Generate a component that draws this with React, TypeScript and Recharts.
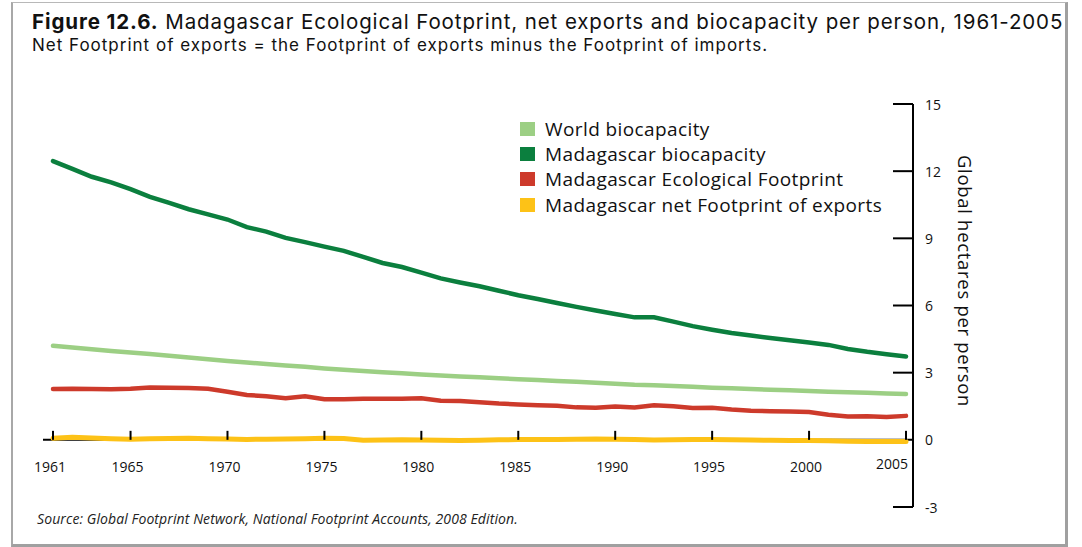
import React from 'react';
import { LineChart, Line, XAxis, YAxis, ReferenceLine, Legend } from 'recharts';

// years 1961..2005
const years = [
  1961, 1962, 1963, 1964, 1965, 1966, 1967, 1968, 1969, 1970,
  1971, 1972, 1973, 1974, 1975, 1976, 1977, 1978, 1979, 1980,
  1981, 1982, 1983, 1984, 1985, 1986, 1987, 1988, 1989, 1990,
  1991, 1992, 1993, 1994, 1995, 1996, 1997, 1998, 1999, 2000,
  2001, 2002, 2003, 2004, 2005,
];

const worldBiocapacity = [
  4.2, 4.12, 4.05, 3.97, 3.9, 3.83, 3.76, 3.68, 3.6, 3.52,
  3.45, 3.39, 3.32, 3.26, 3.19, 3.13, 3.07, 3.02, 2.97, 2.92,
  2.87, 2.83, 2.79, 2.75, 2.71, 2.67, 2.63, 2.59, 2.55, 2.5,
  2.46, 2.44, 2.4, 2.37, 2.33, 2.3, 2.27, 2.24, 2.21, 2.18,
  2.15, 2.12, 2.1, 2.07, 2.05,
];

const madagascarBiocapacity = [
  12.45, 12.1, 11.75, 11.5, 11.2, 10.85, 10.58, 10.3, 10.07, 9.84,
  9.5, 9.3, 9.02, 8.83, 8.63, 8.44, 8.17, 7.9, 7.72, 7.47,
  7.21, 7.03, 6.86, 6.66, 6.46, 6.29, 6.11, 5.94, 5.78, 5.62,
  5.47, 5.47, 5.28, 5.08, 4.92, 4.77, 4.66, 4.55, 4.45, 4.35,
  4.24, 4.06, 3.93, 3.82, 3.72,
];

const madagascarFootprint = [
  2.27, 2.28, 2.27, 2.26, 2.28, 2.34, 2.33, 2.31, 2.28, 2.15,
  2.0, 1.95, 1.86, 1.95, 1.81, 1.81, 1.83, 1.84, 1.83, 1.86,
  1.75, 1.73, 1.68, 1.62, 1.58, 1.55, 1.52, 1.45, 1.43, 1.49,
  1.44, 1.54, 1.5, 1.42, 1.43, 1.35, 1.3, 1.28, 1.26, 1.24,
  1.12, 1.04, 1.05, 1.02, 1.07,
];

const netExports = [
  0.07, 0.12, 0.08, 0.05, 0.03, 0.05, 0.06, 0.07, 0.05, 0.04,
  0.02, 0.03, 0.04, 0.05, 0.07, 0.06, -0.02, -0.01, 0.0, -0.01,
  -0.02, -0.03, -0.02, 0.0, 0.01, 0.02, 0.02, 0.03, 0.04, 0.03,
  0.01, -0.01, 0.0, 0.01, 0.02, 0.0, -0.01, -0.02, -0.03, -0.03,
  -0.04, -0.06, -0.07, -0.08, -0.08,
];

const xTicks = [1961, 1965, 1970, 1975, 1980, 1985, 1990, 1995, 2000, 2005];
const yTicks = [-3, 0, 3, 6, 9, 12, 15];

const legendOrder = [
  'World biocapacity',
  'Madagascar biocapacity',
  'Madagascar Ecological Footprint',
  'Madagascar net Footprint of exports',
];

const chartData = years.map((year, i) => ({
  year,
  world: worldBiocapacity[i],
  bio: madagascarBiocapacity[i],
  footprint: madagascarFootprint[i],
  exports: netExports[i],
}));

const FONT = '"Open Sans", sans-serif';
const HEAD_FONT = 'Inter, "Open Sans", sans-serif';
const W = 1082;
const H = 547;
const PLOT_TOP = 104;
const PLOT_BOTTOM = 507;
// distance from plot bottom (-3) up to the zero line
const ZERO_UP = ((PLOT_BOTTOM - PLOT_TOP) * 3) / 18;

const XTick = (props: any) => {
  const { x, y, payload } = props;
  const y0 = y - ZERO_UP;
  const last = payload.value === 2005;
  return (
    <g>
      <line x1={x} x2={x} y1={y0 - 9} y2={y0} stroke="#000" strokeWidth={2} />
      <text
        x={last ? x + 2 : x - 3}
        y={y0 + (last ? 24 : 27)}
        textAnchor={last ? 'end' : 'middle'}
        dominantBaseline="central"
        fontFamily={FONT}
        fontSize={14}
        fill="#111"
      >
        {payload.value}
      </text>
    </g>
  );
};

const YTick = (props: any) => {
  const { x, y, payload } = props;
  return (
    <g>
      {payload.value !== 0 && (
        <line x1={x - 20} x2={x} y1={y} y2={y} stroke="#000" strokeWidth={2} />
      )}
      <text
        x={x + 12}
        y={y}
        dominantBaseline="central"
        fontFamily={FONT}
        fontSize={14}
        fill="#111"
      >
        {payload.value}
      </text>
    </g>
  );
};

const LegendBox = ({ payload }: any) => {
  const items = [...(payload || [])].sort(
    (a: any, b: any) => legendOrder.indexOf(a.value) - legendOrder.indexOf(b.value)
  );
  return (
    <div style={{ fontFamily: FONT, fontSize: 19, letterSpacing: 0.4, color: '#111' }}>
      {items.map((p: any) => (
        <div key={p.value} style={{ display: 'flex', alignItems: 'center', height: 25.3, whiteSpace: 'nowrap' }}>
          <span
            style={{ width: 15, height: 14, background: p.color, marginRight: 10, display: 'inline-block' }}
          />
          <span>{p.value}</span>
        </div>
      ))}
    </div>
  );
};

export default function App() {
  return (
    <div style={{ position: 'absolute', left: 0, top: 0, width: W, height: H, background: '#fff' }}>
      {/* frame */}
      <div
        style={{
          position: 'absolute',
          left: 11,
          top: 2,
          width: 1052,
          height: 541,
          borderLeft: '2px solid #a8a8a8',
          borderTop: '1px solid #b8b8b8',
          borderRight: '3px solid #a0a0a0',
          borderBottom: '3px solid #a0a0a0',
        }}
      />
      <div
        style={{
          position: 'absolute',
          left: 32,
          top: 12,
          whiteSpace: 'nowrap',
          fontFamily: HEAD_FONT,
          fontSize: 20.5,
          letterSpacing: 0.9,
          lineHeight: '20.5px',
          color: '#111',
        }}
      >
        <b>Figure 12.6.</b> Madagascar Ecological Footprint, net exports and biocapacity per person, 1961-2005
      </div>
      <div
        style={{
          position: 'absolute',
          left: 32,
          top: 37.2,
          whiteSpace: 'nowrap',
          fontFamily: HEAD_FONT,
          fontSize: 17,
          letterSpacing: 1.0,
          lineHeight: '17px',
          color: '#111',
        }}
      >
        Net Footprint of exports = the Footprint of exports minus the Footprint of imports.
      </div>
      <div
        style={{
          position: 'absolute',
          left: 37,
          top: 511.5,
          whiteSpace: 'nowrap',
          fontFamily: FONT,
          fontStyle: 'italic',
          fontSize: 14,
          letterSpacing: 0.1,
          lineHeight: '14px',
          color: '#222',
        }}
      >
        Source: Global Footprint Network, National Footprint Accounts, 2008 Edition.
      </div>
      <div
        style={{
          position: 'absolute',
          left: 965,
          top: 281,
          transform: 'translate(-50%, -50%) rotate(90deg)',
          whiteSpace: 'nowrap',
          fontFamily: FONT,
          fontSize: 18.5,
          letterSpacing: 0.7,
          lineHeight: '18px',
          color: '#111',
        }}
      >
        Global hectares per person
      </div>
      <div style={{ position: 'absolute', left: 0, top: 0 }}>
        <LineChart
          width={W}
          height={H}
          data={chartData}
          margin={{ top: PLOT_TOP, right: 109, bottom: 10, left: 43 }}
        >
          <XAxis
            dataKey="year"
            type="number"
            domain={[1960.484, 2005.361]}
            ticks={xTicks}
            interval={0}
            axisLine={false}
            tickLine={false}
            tickSize={0}
            tickMargin={0}
            height={30}
            tick={<XTick />}
          />
          <YAxis
            orientation="right"
            type="number"
            domain={[-3, 15]}
            ticks={yTicks}
            interval={0}
            width={60}
            axisLine={{ stroke: '#000', strokeWidth: 2 }}
            tickLine={false}
            tickSize={0}
            tickMargin={0}
            tick={<YTick />}
          />
          <ReferenceLine y={0} stroke="#000" strokeWidth={2} />
          <Legend
            layout="vertical"
            verticalAlign="middle"
            align="center"
            wrapperStyle={{ left: 520, top: 116, width: 380 }}
            content={<LegendBox />}
          />
          <Line
            dataKey="world"
            name="World biocapacity"
            stroke="#9ccf84"
            strokeWidth={4.5}
            dot={false}
            strokeLinecap="round"
            isAnimationActive={false}
          />
          <Line
            dataKey="bio"
            name="Madagascar biocapacity"
            stroke="#0b7f3e"
            strokeWidth={4.5}
            dot={false}
            strokeLinecap="round"
            isAnimationActive={false}
          />
          <Line
            dataKey="footprint"
            name="Madagascar Ecological Footprint"
            stroke="#cd3a2b"
            strokeWidth={4.5}
            dot={false}
            strokeLinecap="round"
            isAnimationActive={false}
          />
          <Line
            dataKey="exports"
            name="Madagascar net Footprint of exports"
            stroke="#fdc217"
            strokeWidth={5}
            dot={false}
            strokeLinecap="round"
            isAnimationActive={false}
          />
        </LineChart>
      </div>
    </div>
  );
}
